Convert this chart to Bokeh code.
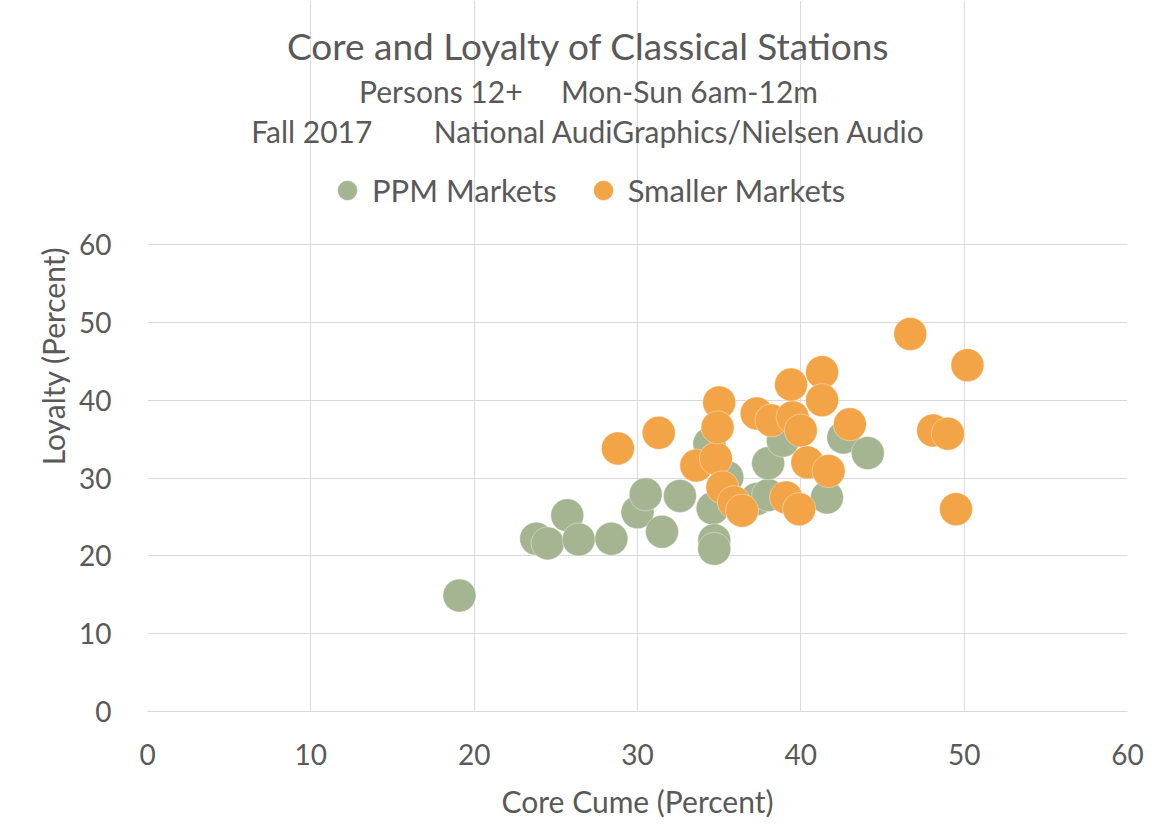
from bokeh.plotting import figure
from bokeh.models import Label, Legend, LegendItem, Range1d, FixedTicker
from bokeh.embed import file_html
from bokeh.resources import INLINE

# ---- data ----
ppm_core = [19.1, 23.8, 24.5, 25.7, 26.4, 28.4, 30.0, 30.5, 31.5, 32.6, 34.4,
            34.6, 34.7, 34.7, 35.5, 37.3, 38.0, 38.0, 38.9, 41.6, 42.6, 44.1]
ppm_loyalty = [14.9, 22.2, 21.6, 25.2, 22.1, 22.2, 25.6, 27.9, 23.1, 27.7, 34.4,
               26.1, 22.0, 20.9, 30.1, 27.3, 27.8, 31.9, 34.8, 27.5, 35.2, 33.2]

small_core = [28.8, 31.3, 33.6, 34.8, 35.0, 34.9, 35.2, 35.9, 36.4, 37.3, 38.2,
              39.5, 40.0, 39.4, 41.3, 41.3, 43.0, 40.4, 41.7, 39.1, 39.9, 46.7,
              50.2, 48.1, 49.0, 49.5]
small_loyalty = [33.8, 35.8, 31.6, 32.5, 39.7, 36.5, 28.8, 26.9, 25.8, 38.3, 37.4,
                 37.8, 36.1, 42.0, 43.6, 40.0, 36.9, 32.0, 30.9, 27.5, 26.0, 48.5,
                 44.5, 36.1, 35.7, 26.0]

x_ticks = [0, 10, 20, 30, 40, 50, 60]
y_ticks = [0, 10, 20, 30, 40, 50, 60]

NB = "\u00a0"
title_text = "Core and Loyalty of Classical Stations"
subtitle1 = "Persons 12+ " + NB * 4 + "Mon-Sun 6am-12m"
subtitle2 = "Fall 2017 " + NB * 7 + "National AudiGraphics/Nielsen Audio"
series_names = ["PPM Markets", "Smaller Markets"]
x_title = "Core Cume (Percent)"
y_title = "Loyalty (Percent)"

GREEN = "#A5B592"
ORANGE = "#F3A447"
TEXT = "#595959"
GRID = "#D9D9D9"
FONT = "Lato"

# frame spans the whole upper area so that titles/legend are not clipped;
# the data area (0..60) occupies the lower 467 px of it
FRAME_H = 711
DATA_H = 467
y_top = 60 * FRAME_H / DATA_H

p = figure(frame_width=980, frame_height=FRAME_H,
           min_border_left=147, min_border_right=17,
           min_border_top=0, min_border_bottom=109,
           x_range=Range1d(0, 60), y_range=Range1d(0, y_top),
           output_backend="svg", toolbar_location=None)
p.outline_line_color = None
p.background_fill_color = "white"
p.border_fill_color = "white"

for ax, ticks in ((p.xaxis, x_ticks), (p.yaxis, y_ticks)):
    ax.ticker = FixedTicker(ticks=ticks)
    ax.major_tick_line_color = None
    ax.minor_tick_line_color = None
    ax.major_label_text_font = FONT
    ax.major_label_text_font_size = "28px"
    ax.major_label_text_color = TEXT
    ax.axis_label_text_font = FONT
    ax.axis_label_text_font_size = "30px"
    ax.axis_label_text_font_style = "normal"
    ax.axis_label_text_color = TEXT

p.yaxis.bounds = (y_ticks[0], y_ticks[-1])
p.xaxis.axis_line_color = GRID
p.yaxis.axis_line_color = None
p.xaxis.axis_label = x_title
p.yaxis.axis_label = y_title
p.yaxis.major_label_standoff = 30
p.yaxis.axis_label_standoff = 5
p.xaxis.major_label_standoff = 26
p.xaxis.axis_label_standoff = 15

p.xgrid.ticker = FixedTicker(ticks=x_ticks)
p.ygrid.ticker = FixedTicker(ticks=y_ticks)
p.xgrid.bounds = (y_ticks[0], y_ticks[-1])
for g in (p.xgrid, p.ygrid):
    g.grid_line_color = GRID
    g.grid_line_width = 1

r_ppm = p.scatter(ppm_core, ppm_loyalty, size=33, fill_color=GREEN,
                  line_color="white", line_alpha=0.5, line_width=0.75)
r_small = p.scatter(small_core, small_loyalty, size=33, fill_color=ORANGE,
                    line_color="white", line_alpha=0.5, line_width=0.75)

# titles (screen units, relative to the frame's bottom-left)
for txt, y, fs in ((title_text, 666, "37px"), (subtitle1, 621, "30px"), (subtitle2, 581, "30px")):
    p.add_layout(Label(x=441, y=y, x_units="screen", y_units="screen", text=txt,
                       text_align="center", text_baseline="alphabetic",
                       text_font=FONT, text_font_size=fs, text_color=TEXT))

legend = Legend(items=[LegendItem(label=series_names[0], renderers=[r_ppm]),
                       LegendItem(label=series_names[1], renderers=[r_small])],
                orientation="horizontal", location=(175, 496),
                glyph_width=50, glyph_height=50, label_standoff=0, spacing=21,
                padding=0, margin=0, border_line_color=None,
                background_fill_alpha=0,
                label_text_font=FONT, label_text_font_size="31px",
                label_text_color=TEXT)
p.add_layout(legend, "center")

open("out.html", "w").write(file_html(p, INLINE))
